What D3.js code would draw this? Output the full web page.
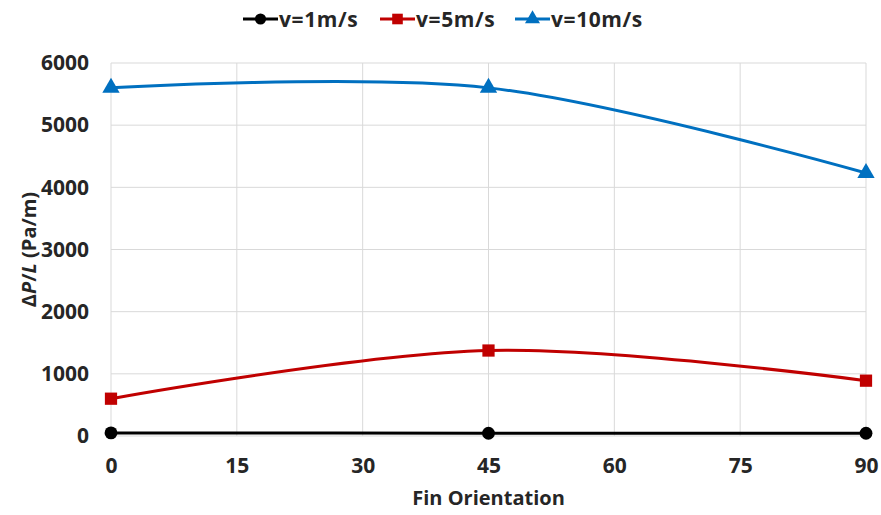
<!doctype html>
<html lang="en">
<head>
    <meta charset="UTF-8" />
    <script src="https://d3js.org/d3.v7.min.js"></script>
    <title>Fin Orientation</title>
    <style>
        body { margin: 0; background: #fff; }
        text { font-family: "Open Sans", sans-serif; font-weight: bold; fill: #262626; }
    </style>
</head>
<body>
    <div id="chart"></div>
    <script>
        // Data
        const angles = [0, 45, 90]
        const v1 = [50, 45, 45]
        const v5 = [600, 1375, 890]
        const v10 = [5600, 5600, 4230]
        const xTicks = [0, 15, 30, 45, 60, 75, 90]
        const yTicks = [0, 1000, 2000, 3000, 4000, 5000, 6000]
        const seriesNames = ["v=1m/s", "v=5m/s", "v=10m/s"]

        const W = 881, H = 515
        const margin = { top: 63, right: 15, bottom: 79, left: 111 }
        const width = W - margin.left - margin.right
        const height = H - margin.top - margin.bottom

        const svg = d3.select("#chart").append("svg")
            .attr("width", W).attr("height", H)
        const g = svg.append("g")
            .attr("transform", `translate(${margin.left},${margin.top})`)

        const x = d3.scaleLinear().domain([0, 90]).range([0, 755])
        const y = d3.scaleLinear().domain([0, 6000]).range([height, 0])

        // gridlines
        g.append("g").selectAll("line").data(yTicks).join("line")
            .attr("x1", 0).attr("x2", x(90))
            .attr("y1", d => y(d)).attr("y2", d => y(d))
            .attr("stroke", "#d9d9d9").attr("stroke-width", 1)
        g.append("g").selectAll("line").data(xTicks).join("line")
            .attr("x1", d => x(d)).attr("x2", d => x(d))
            .attr("y1", 0).attr("y2", height)
            .attr("stroke", "#d9d9d9").attr("stroke-width", 1)

        // axes (labels only)
        const xAxis = g.append("g")
            .attr("transform", `translate(0,${height})`)
            .call(d3.axisBottom(x).tickValues(xTicks).tickSize(0).tickPadding(22).tickFormat(d3.format("d")))
        const yAxis = g.append("g")
            .call(d3.axisLeft(y).tickValues(yTicks).tickSize(0).tickPadding(22).tickFormat(d3.format("d")))
        ;[xAxis, yAxis].forEach(a => {
            a.select(".domain").remove()
            a.selectAll("text").style("font-size", "21px").attr("fill", "#1a1a1a")
        })

        const series = [
            { name: seriesNames[0], values: v1, color: "#000000", marker: "circle" },
            { name: seriesNames[1], values: v5, color: "#c00000", marker: "square" },
            { name: seriesNames[2], values: v10, color: "#0070c0", marker: "triangle" }
        ]

        const symbolOf = m => m === "circle" ? d3.symbolCircle : m === "square" ? d3.symbolSquare : d3.symbolTriangle
        const sizeOf = m => m === "circle" ? 130 : m === "square" ? 150 : 130

        const line = d3.line()
            .x((d, i) => x(angles[i]))
            .y(d => y(d))
            .curve(d3.curveCardinal.tension(0))

        series.forEach(s => {
            g.append("path")
                .datum(s.values)
                .attr("fill", "none")
                .attr("stroke", s.color)
                .attr("stroke-width", 3)
                .attr("d", line)
            g.selectAll(null).data(s.values).join("path")
                .attr("transform", (d, i) => `translate(${x(angles[i])},${y(d)})`)
                .attr("d", d3.symbol().type(symbolOf(s.marker)).size(sizeOf(s.marker)))
                .attr("fill", s.color)
        })

        // legend
        const legendStart = [243, 380, 515]
        const legend = svg.append("g").attr("transform", "translate(0,19)")
        series.forEach((s, i) => {
            const lg = legend.append("g").attr("transform", `translate(${legendStart[i]},0)`)
            lg.append("line").attr("x1", 0).attr("x2", 35).attr("y1", 0).attr("y2", 0)
                .attr("stroke", s.color).attr("stroke-width", 3)
            lg.append("path").attr("transform", "translate(17.5,0)")
                .attr("d", d3.symbol().type(symbolOf(s.marker)).size(sizeOf(s.marker) * 0.75))
                .attr("fill", s.color)
            lg.append("text").attr("x", 36).attr("y", 7.5)
                .style("font-size", "21px").style("letter-spacing", "0.6px").text(s.name)
        })

        // axis titles
        svg.append("text")
            .attr("x", margin.left + x(45)).attr("y", 505)
            .attr("text-anchor", "middle")
            .style("font-size", "20px")
            .text("Fin Orientation")

        const yt = svg.append("text")
            .attr("transform", `translate(36,${margin.top + height / 2}) rotate(-90)`)
            .attr("text-anchor", "middle")
            .style("font-size", "20px")
        yt.append("tspan").text("Δ")
        yt.append("tspan").style("font-style", "italic").text("P")
        yt.append("tspan").text("/")
        yt.append("tspan").style("font-style", "italic").text("L")
        yt.append("tspan").text(" (Pa/m)")
    </script>
</body>
</html>
